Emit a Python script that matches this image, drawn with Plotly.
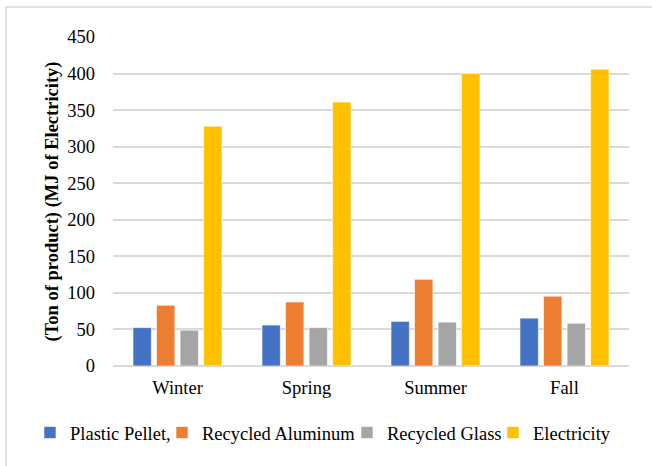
import plotly.graph_objects as go

seasons = ["Winter", "Spring", "Summer", "Fall"]
plastic_pellet = [52.5, 56, 61, 65.5]
recycled_aluminum = [83, 87.5, 118.5, 95.5]
recycled_glass = [49, 52.5, 60, 58.5]
electricity = [328, 361, 400, 406]

series = [
    ("Plastic Pellet,", plastic_pellet, "#4472C4"),
    ("Recycled Aluminum", recycled_aluminum, "#ED7D31"),
    ("Recycled Glass", recycled_glass, "#A5A5A5"),
    ("Electricity", electricity, "#FFC000"),
]

W, H = 652, 466
L, R, T, B = 113, 23, 37, 100
pw, ph = W - L - R, H - T - B

font = "Liberation Serif, Times New Roman, serif"
fs = 18.5

# one legend box per series so each key sits at its own horizontal spot
legend_left_px = [30, 162, 347, 493]
legend_names = ["legend", "legend2", "legend3", "legend4"]

fig = go.Figure()
for (name, vals, color), lg in zip(series, legend_names):
    fig.add_trace(go.Bar(
        x=seasons, y=vals, name=name, legend=lg,
        marker=dict(color=color, line=dict(color="white", width=0.6)),
    ))

legend_cfg = {}
for lg, px in zip(legend_names, legend_left_px):
    legend_cfg[lg] = dict(
        orientation="h", x=(px - L) / pw, xanchor="left",
        y=(H - B - 433) / ph, yanchor="middle",
        font=dict(family=font, size=fs, color="#000000"),
        bgcolor="rgba(0,0,0,0)",
    )

fig.update_layout(
    width=W, height=H,
    margin=dict(l=L, r=R, t=T, b=B, pad=0),
    paper_bgcolor="white", plot_bgcolor="white",
    barmode="group", bargap=0.27, bargroupgap=0.22,
    font=dict(family=font, size=fs, color="#000000"),
    showlegend=True,
    xaxis=dict(
        showgrid=False, showline=False, zeroline=False,
        ticks="", ticklabelstandoff=8,
        tickfont=dict(family=font, size=fs, color="#000000"),
    ),
    yaxis=dict(
        range=[0, 450], dtick=50,
        showgrid=True, gridcolor="#D9D9D9", gridwidth=1.5,
        zeroline=True, zerolinecolor="#D9D9D9", zerolinewidth=1.5,
        showline=False, ticks="", ticklabelstandoff=17,
        tickfont=dict(family=font, size=fs, color="#000000"),
        title=dict(
            text="<b>(Ton of product) (MJ of Electricity)</b>",
            font=dict(family=font, size=fs, color="#000000"), standoff=3,
        ),
    ),
    shapes=[dict(
        type="rect", xref="paper", yref="paper",
        x0=(6 - L) / pw, x1=(W + 20 - L) / pw,
        y0=(H - B - (H + 20)) / ph, y1=(H - B - 7) / ph,
        line=dict(color="#D9D9D9", width=1.5), fillcolor="rgba(0,0,0,0)",
        layer="below",
    )],
    **legend_cfg,
)

fig.write_html("out.html")
